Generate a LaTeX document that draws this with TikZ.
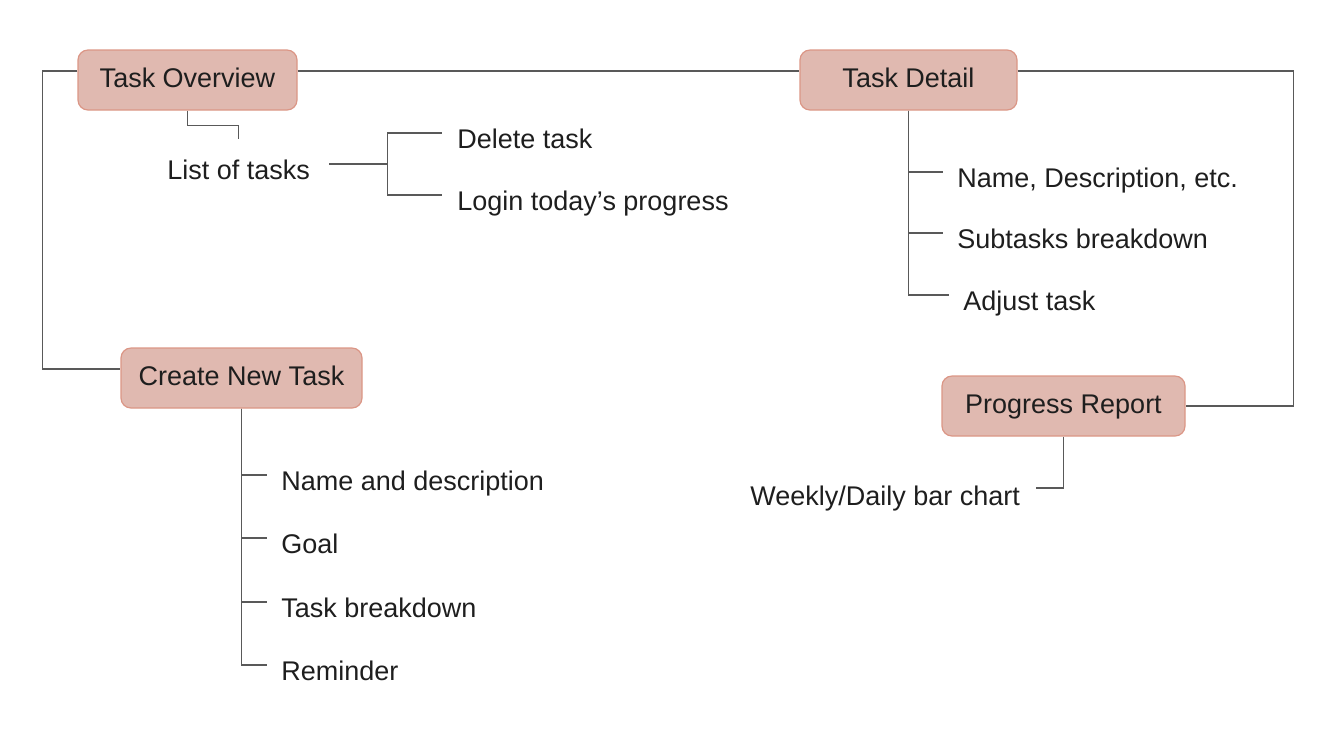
\documentclass[tikz,border=0pt]{standalone}
\usepackage{fontspec}
\setmainfont{Liberation Sans}
\definecolor{boxfill}{RGB}{224,185,176}
\definecolor{boxline}{RGB}{219,150,134}
\definecolor{connc}{RGB}{89,89,89}
\definecolor{txtc}{RGB}{30,30,30}
\begin{document}
\begin{tikzpicture}[x=0.5pt,y=-0.5pt,
  font=\fontsize{13.5}{16}\selectfont,
  box/.style={draw=boxline, fill=boxfill, rounded corners=5pt, line width=0.6pt,
    minimum height=30pt, text height=0.716em, text depth=0pt, inner sep=0pt, text=txtc},
  lbl/.style={anchor=base west, inner sep=0pt, text=txtc},
  link/.style={draw=connc, line width=0.75pt}]
\useasboundingbox (0,0) rectangle (1340,752);
% main boxes
\node[box, minimum width=109.5pt] (TO) at (187.5,80) {Task Overview};
\node[box, minimum width=108.5pt] (TD) at (908.5,80) {Task Detail};
\node[box, minimum width=120.5pt] (CN) at (241.5,378) {Create New Task};
\node[box, minimum width=121.5pt] (PR) at (1063.5,406) {Progress Report};
% labels
\node[lbl] (LT) at (167,179) {List of tasks};
\node[lbl] (DT) at (457,148) {Delete task};
\node[lbl] (LP) at (457,210) {Login today’s progress};
\node[lbl] (ND) at (957,187) {Name, Description, etc.};
\node[lbl] (SB) at (957,248) {Subtasks breakdown};
\node[lbl] (AT) at (963,310) {Adjust task};
\node[lbl] (NA) at (281,490) {Name and description};
\node[lbl] (GO) at (281,553) {Goal};
\node[lbl] (TB) at (281,617) {Task breakdown};
\node[lbl] (RE) at (281,680) {Reminder};
\node[lbl] (WD) at (750,505) {Weekly/Daily bar chart};
% main loop
\draw[link] ([yshift=4.5pt]TO.east) -- ([yshift=4.5pt]TD.west);
\draw[link] ([yshift=4.5pt]TO.west) -- ++(-35,0) |- ([yshift=4.5pt]CN.west);
\draw[link] ([yshift=4.5pt]TD.east) -- ++(276,0) |- (PR.east);
% task overview branch
\draw[link] (TO.south) -- ++(0,15) -| ([yshift=10pt]LT.north);
\draw[link] ([shift={(9.5pt,7.5pt)}]LT.base east) -- ++(58,0) coordinate (fork);
\draw[link] (fork) |- ([shift={(-7.5pt,7.5pt)}]DT.base west);
\draw[link] (fork) |- ([shift={(-7.5pt,7.5pt)}]LP.base west);
% task detail branch
\draw[link] (TD.south) |- ([shift={(-7pt,7.5pt)}]ND.base west);
\draw[link] (TD.south) |- ([shift={(-7pt,7.5pt)}]SB.base west);
\draw[link] (TD.south) |- ([shift={(-7pt,7.5pt)}]AT.base west);
% create new task branch
\draw[link] (CN.south) |- ([shift={(-7pt,7.5pt)}]NA.base west);
\draw[link] (CN.south) |- ([shift={(-7pt,7.5pt)}]GO.base west);
\draw[link] (CN.south) |- ([shift={(-7pt,7.5pt)}]TB.base west);
\draw[link] (CN.south) |- ([shift={(-7pt,7.5pt)}]RE.base west);
% progress report branch
\draw[link] (PR.south) |- ([shift={(8pt,8.5pt)}]WD.base east);
\end{tikzpicture}
\end{document}
